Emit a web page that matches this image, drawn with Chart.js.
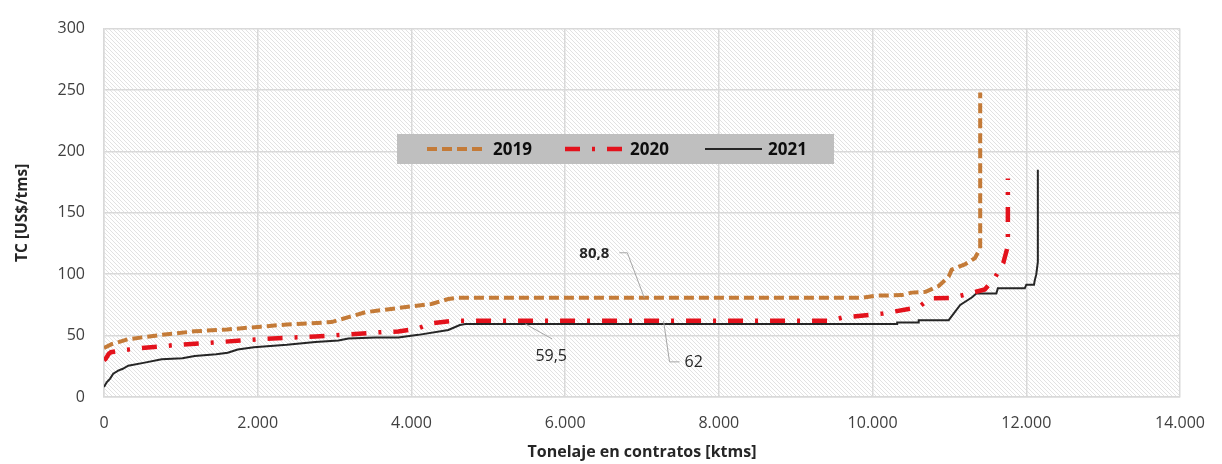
<!DOCTYPE html>
<html>
<head>
<meta charset="utf-8">
<script src="https://cdn.jsdelivr.net/npm/chart.js@4.4.1/dist/chart.umd.min.js"></script>
<style>
html, body { margin: 0; padding: 0; background: #fff; }
#wrap { width: 1222px; height: 464px; }
</style>
</head>
<body>
<div id="wrap"><canvas id="tcChart" width="1222" height="464"></canvas></div>
<script>
// ===== values =====
const years = ['2019', '2020', '2021'];

const x2019 = [0, 100, 310, 750, 1180, 1600, 2040, 2380, 2960, 3180, 3400, 3830, 4260, 4480, 4600, 9860, 10040, 10380, 10510, 10690, 10860, 10990, 11030, 11200, 11330, 11400, 11400];
const y2019 = [40, 43, 47, 50.6, 53.5, 55, 57.3, 59, 61, 65, 69, 72.5, 75.8, 79.8, 80.8, 80.8, 82.5, 83, 85, 85.6, 90.4, 98, 103.7, 108, 113, 121, 248];

const x2020 = [0, 20, 60, 90, 230, 440, 960, 1520, 2040, 2750, 3180, 3610, 3830, 4090, 4260, 4520, 9440, 9610, 10130, 10600, 10750, 11030, 11460, 11590, 11700, 11760, 11760];
const y2020 = [30, 31, 35, 36.5, 38, 39.5, 42.5, 44.8, 47.2, 49.3, 51, 52.8, 53.3, 56, 60, 62, 62, 64.7, 67.9, 73.2, 80.4, 80.6, 87.5, 97, 109, 123, 178];

const x2021 = [0, 35, 80, 120, 185, 245, 315, 530, 750, 1020, 1180, 1460, 1610, 1740, 1950, 2380, 2750, 3050, 3180, 3530, 3830, 4090, 4480, 4630, 4700, 10320, 10320, 10600, 10600, 10990, 11140, 11290, 11350, 11610, 11630, 11980, 12000, 12100, 12110, 12130, 12150, 12150];
const y2021 = [8.2, 12, 15, 19, 21.5, 23, 25.5, 28, 30.7, 31.6, 33.4, 34.8, 36, 38.7, 40.6, 42.5, 44.8, 46, 47.7, 48.5, 48.5, 50.6, 54.6, 58.6, 59.5, 59.5, 60.7, 60.7, 62.6, 62.6, 75, 81, 84.3, 84.3, 88.5, 88.5, 91.5, 91.5, 95, 100, 110, 185];

const xTickLabels = ['0', '2.000', '4.000', '6.000', '8.000', '10.000', '12.000', '14.000'];
const yTickLabels = ['0', '50', '100', '150', '200', '250', '300'];

// callouts: value shown, where it touches its series
const calloutValues = [80.8, 59.5, 62];
const calloutX = [7030, 5480, 7280];

// ===== helpers =====
function toPoints(xs, ys) {
    return xs.map((x, i) => ({ x: x, y: ys[i] }));
}

function makeHatch() {
    const c = document.createElement('canvas');
    c.width = 4; c.height = 4;
    const g = c.getContext('2d');
    g.fillStyle = '#ffffff';
    g.fillRect(0, 0, 4, 4);
    g.strokeStyle = '#e2e2e2';
    g.lineWidth = 1;
    g.beginPath();
    g.moveTo(-1, -1); g.lineTo(5, 5);
    g.moveTo(-1, 3); g.lineTo(1, 5);
    g.moveTo(3, -1); g.lineTo(5, 1);
    g.stroke();
    return c;
}

const hatchBackground = {
    id: 'hatchBackground',
    beforeDraw(chart) {
        const { ctx, chartArea: a } = chart;
        ctx.save();
        ctx.fillStyle = ctx.createPattern(makeHatch(), 'repeat');
        ctx.fillRect(a.left, a.top, a.right - a.left, a.bottom - a.top);
        ctx.restore();
    }
};

const boxLegend = {
    id: 'boxLegend',
    afterDatasetsDraw(chart) {
        const ctx = chart.ctx;
        const sample = [[427, 487, 493], [565, 625, 630], [705, 762, 768]];
        ctx.save();
        ctx.fillStyle = '#bfbfbf';
        ctx.fillRect(397, 134, 437, 30);
        chart.data.datasets.forEach((ds, i) => {
            ctx.strokeStyle = ds.borderColor;
            ctx.lineWidth = ds.borderWidth;
            ctx.setLineDash(ds.borderDash || []);
            ctx.beginPath();
            ctx.moveTo(sample[i][0], 149);
            ctx.lineTo(sample[i][1], 149);
            ctx.stroke();
            ctx.setLineDash([]);
            ctx.fillStyle = '#0d0d0d';
            ctx.font = 'bold 17px "Open Sans"';
            ctx.textBaseline = 'middle';
            ctx.textAlign = 'left';
            ctx.fillText(ds.label, sample[i][2], 150);
        });
        ctx.restore();
    }
};

const callouts = {
    id: 'callouts',
    afterDatasetsDraw(chart) {
        const ctx = chart.ctx;
        const xs = chart.scales.x, ys = chart.scales.y;
        // leader path offsets from the anchor, then label offset and alignment
        const shapes = [
            { path: [[-17, -45], [-25, -45]], label: [-35, -44], align: 'right', bold: true },
            { path: [[27, 15]], label: [26, 33], align: 'center', bold: false },
            { path: [[6, 41], [16, 41]], label: [21, 42], align: 'left', bold: false }
        ];
        ctx.save();
        calloutValues.forEach((v, i) => {
            const px = xs.getPixelForValue(calloutX[i]);
            const py = ys.getPixelForValue(v);
            const s = shapes[i];
            ctx.strokeStyle = '#a6a6a6';
            ctx.lineWidth = 1;
            ctx.beginPath();
            ctx.moveTo(px, py);
            s.path.forEach(p => ctx.lineTo(px + p[0], py + p[1]));
            ctx.stroke();
            ctx.fillStyle = '#262626';
            ctx.font = (s.bold ? 'bold 15px' : '16px') + ' "Open Sans"';
            ctx.textAlign = s.align;
            ctx.textBaseline = 'middle';
            ctx.fillText(String(v).replace('.', ','), px + s.label[0], py + s.label[1]);
        });
        ctx.restore();
    }
};

// ===== chart =====
const ctx = document.getElementById('tcChart');
window.tcChart = new Chart(ctx, {
    type: 'line',
    data: {
        datasets: [
            { label: years[0], data: toPoints(x2019, y2019), borderColor: '#c47b38', borderWidth: 4, borderDash: [10, 5], pointRadius: 0, fill: false, tension: 0 },
            { label: years[1], data: toPoints(x2020, y2020), borderColor: '#e3121c', borderWidth: 4.5, borderDash: [15, 12, 3, 12], pointRadius: 0, fill: false, tension: 0 },
            { label: years[2], data: toPoints(x2021, y2021), borderColor: '#262626', borderWidth: 2, pointRadius: 0, fill: false, tension: 0 }
        ]
    },
    options: {
        responsive: false,
        animation: false,
        layout: { padding: { top: 20, right: 36, bottom: 0, left: 0 } },
        plugins: { legend: { display: false }, tooltip: { enabled: false } },
        scales: {
            x: {
                type: 'linear', min: 0, max: 14000,
                afterFit: s => { s.height = 67; },
                ticks: { stepSize: 2000, padding: 17, color: '#404040', font: { family: 'Open Sans', size: 16 }, maxRotation: 0, callback: (v, i) => xTickLabels[i] },
                grid: { color: '#d9d9d9', lineWidth: 1.5, drawTicks: false },
                border: { color: '#d9d9d9', width: 1.5 },
                title: { display: true, text: 'Tonelaje en contratos [ktms]', color: '#262626', font: { family: 'Open Sans', size: 16, weight: 'bold', lineHeight: 1.2 }, padding: { top: 0, bottom: 2 } }
            },
            y: {
                min: 0, max: 300,
                afterFit: s => { s.width = 104; },
                ticks: { stepSize: 50, padding: 19, color: '#404040', font: { family: 'Open Sans', size: 16 }, callback: (v, i) => yTickLabels[i] },
                grid: { color: '#d9d9d9', lineWidth: 1.5, drawTicks: false },
                border: { color: '#d9d9d9', width: 1.5 },
                title: { display: true, text: 'TC [US$/tms]', color: '#262626', font: { family: 'Open Sans', size: 15.5, weight: 'bold', lineHeight: 1.2 }, padding: { top: 13, bottom: 0 } }
            }
        }
    },
    plugins: [hatchBackground, boxLegend, callouts]
});
</script>
</body>
</html>
